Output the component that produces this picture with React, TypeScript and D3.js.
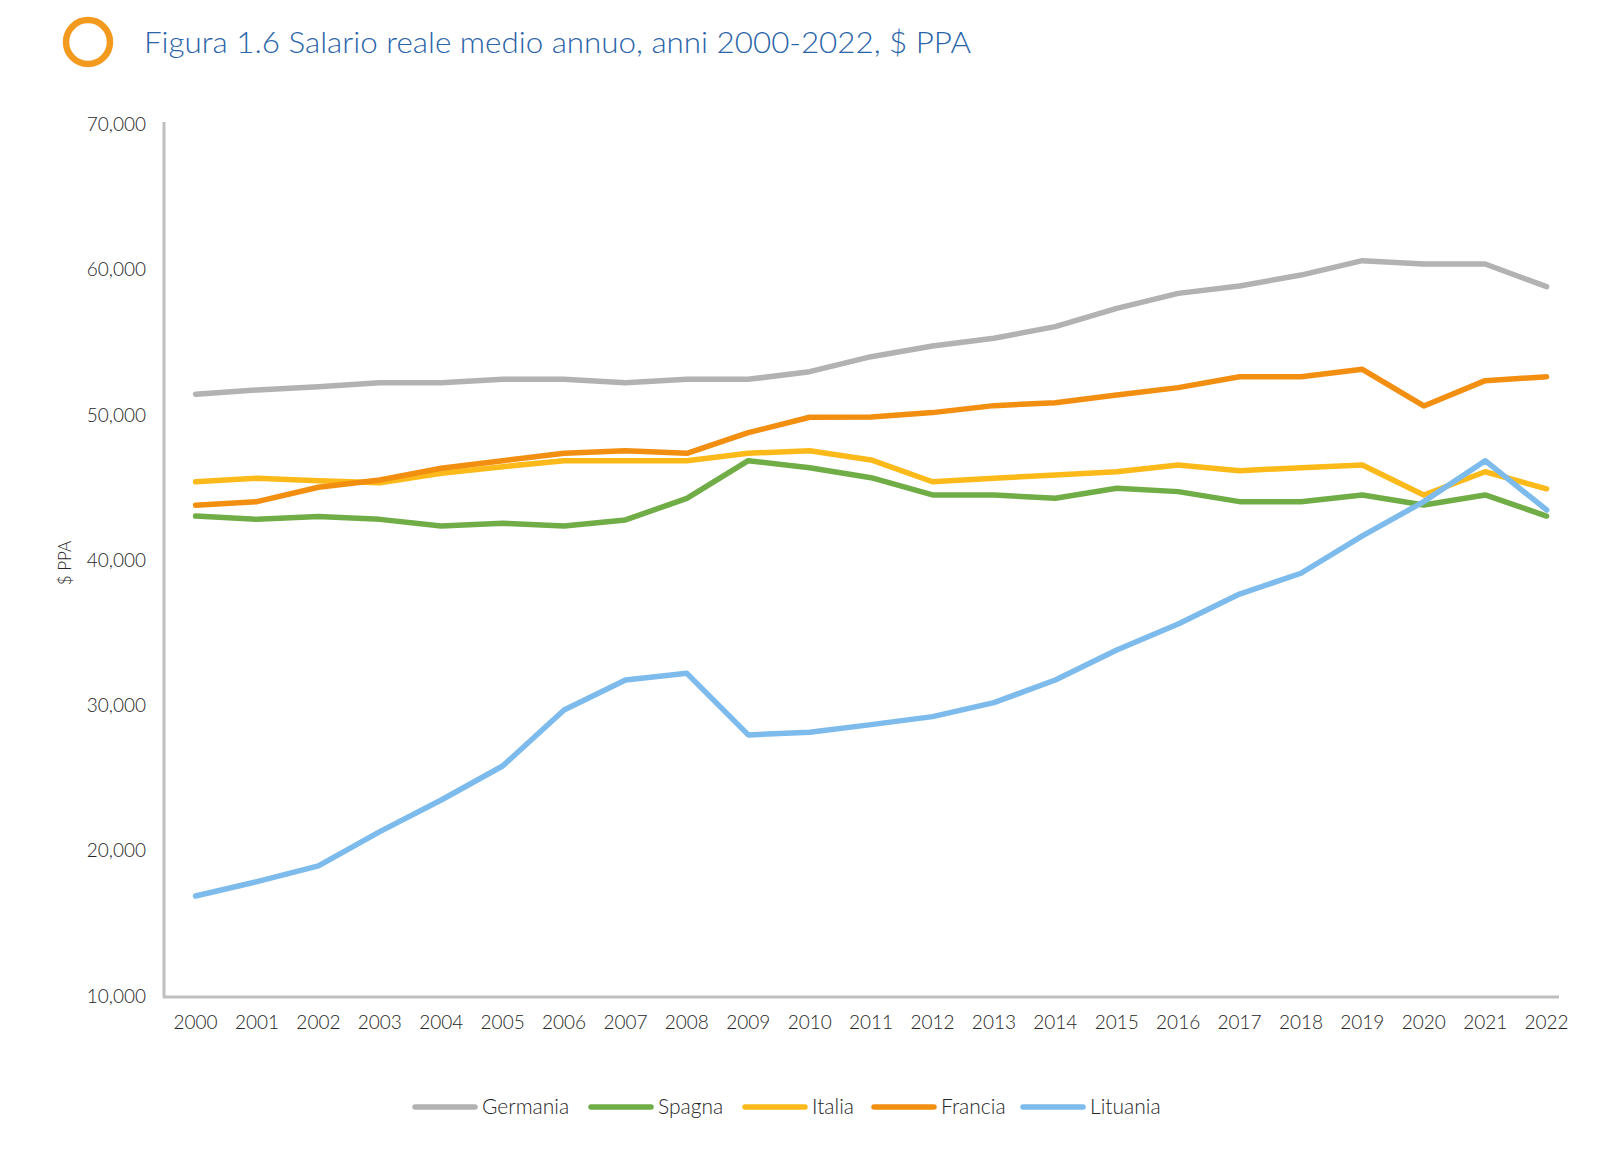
import React from "react";
import * as d3 from "d3";

const years = ["2000","2001","2002","2003","2004","2005","2006","2007","2008","2009","2010","2011","2012","2013","2014","2015","2016","2017","2018","2019","2020","2021","2022"];
const germania = [51400,51690,51910,52190,52190,52420,52420,52190,52420,52420,52950,53980,54720,55250,56050,57310,58340,58850,59600,60590,60360,60360,58800];
const spagna = [43010,42780,42970,42780,42320,42510,42320,42740,44230,46820,46340,45650,44460,44460,44230,44920,44690,44000,44000,44460,43770,44460,43010];
const italia = [45370,45610,45440,45300,45950,46410,46820,46820,46820,47330,47510,46870,45370,45610,45840,46060,46520,46130,46340,46520,44460,46060,44880];
const francia = [43750,44000,44990,45490,46300,46820,47330,47510,47330,48750,49810,49830,50130,50610,50810,51340,51850,52600,52600,53110,50590,52330,52600];
const lituania = [16850,17840,18920,21280,23460,25800,29660,31720,32180,27940,28120,28650,29200,30160,31720,33790,35580,37640,39070,41640,44000,46820,43430];
const yTicks = [10000,20000,30000,40000,50000,60000,70000];

const seriesNames = ["Germania","Spagna","Italia","Francia","Lituania"];
const seriesColors = ["#B2B2B2","#70AD47","#FCBA1A","#F28E10","#7DBBEC"];
const seriesValues = [germania, spagna, italia, francia, lituania];

export default function App() {
  const W = 1606, H = 1152;
  const x = d3.scalePoint<string>().domain(years).range([195.6, 1546.6]);
  const y = d3.scaleLinear().domain([10000, 70000]).range([995.5, 124]);
  const line = d3.line<number>().x((_, i) => x(years[i]) as number).y(d => y(d));
  const fmt = d3.format(",");
  const font = "Lato, 'Open Sans', sans-serif";
  const txt = "#262626";
  const legendX = [415, 591, 745, 874, 1023];
  return (
    <svg width={W} height={H} style={{ position: "absolute", left: 0, top: 0, background: "#fff" }}>
      <circle cx={88} cy={42} r={22} fill="none" stroke="#F39A1E" strokeWidth={6.5} />
      <text x={144} y={53} fontFamily={font} fontWeight={300} fontSize={30} fill="#2A64A8" textLength={827} lengthAdjust="spacingAndGlyphs">
        Figura 1.6 Salario reale medio annuo, anni 2000-2022, $ PPA
      </text>
      <line x1={164} x2={164} y1={122} y2={997} stroke="#BFBFBF" strokeWidth={3} />
      <line x1={163} x2={1559} y1={997} y2={997} stroke="#BFBFBF" strokeWidth={3} />
      {yTicks.map(t => (
        <text key={t} x={146} y={y(t) + 7} textAnchor="end" fontFamily={font} fontWeight={300} fontSize={19} fill={txt}>{fmt(t)}</text>
      ))}
      {years.map(yr => (
        <text key={yr} x={x(yr)} y={1029} textAnchor="middle" fontFamily={font} fontWeight={300} fontSize={19} fill={txt}>{yr}</text>
      ))}
      <text transform={`translate(71,563) rotate(-90)`} textAnchor="middle" fontFamily={font} fontWeight={300} fontSize={17} fill={txt}>$ PPA</text>
      {seriesValues.map((vals, i) => (
        <path key={seriesNames[i]} d={line(vals) || ""} fill="none" stroke={seriesColors[i]} strokeWidth={5.5} strokeLinejoin="round" strokeLinecap="round" />
      ))}
      {seriesNames.map((n, i) => (
        <g key={n}>
          <line x1={legendX[i]} x2={legendX[i] + 60} y1={1107} y2={1107} stroke={seriesColors[i]} strokeWidth={5.5} strokeLinecap="round" />
          <text x={legendX[i] + 67} y={1114} fontFamily={font} fontWeight={300} fontSize={21} fill={txt}>{n}</text>
        </g>
      ))}
    </svg>
  );
}
